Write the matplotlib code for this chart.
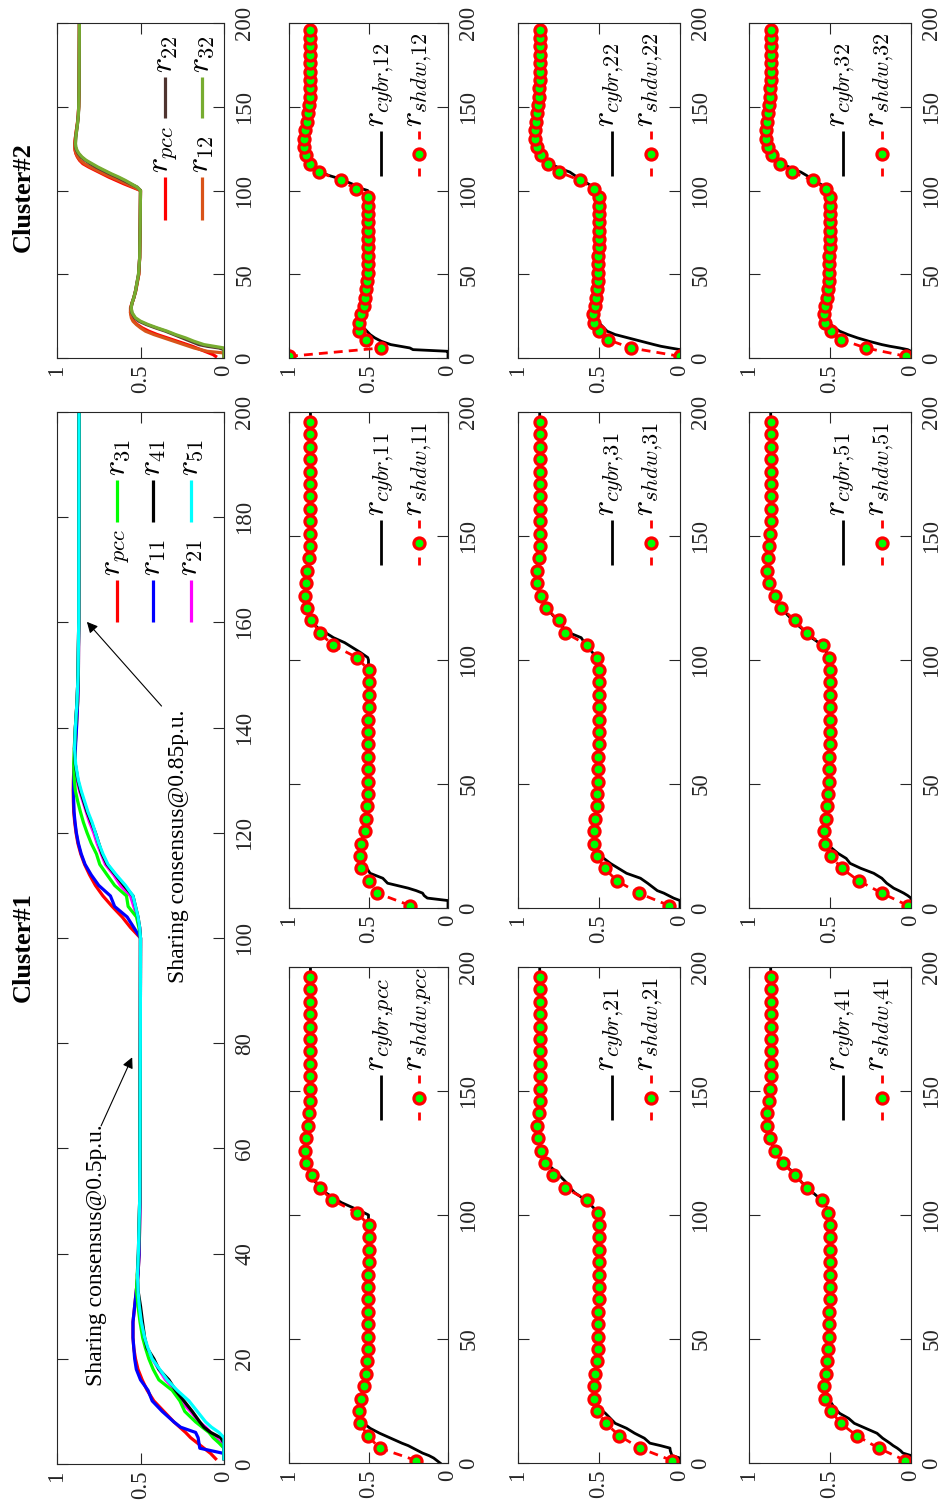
import matplotlib
matplotlib.use('Agg')
import matplotlib.pyplot as plt

plt.rcParams['font.family'] = ['Liberation Serif', 'DejaVu Serif']
plt.rcParams['mathtext.fontset'] = 'cm'

# ---------------- data ----------------
# time grid for the cluster overview curves
t_clu = [1, 2, 3, 4, 5, 6, 7, 8, 10, 12, 14, 16, 18, 20, 22, 24, 27, 30, 33, 36, 40,
         50, 60, 80, 100, 102, 104, 106, 108, 110, 112, 114, 116, 118, 120, 122, 124,
         126, 128, 130, 133, 136, 140, 145, 150, 160, 200]

c1_pcc = [0.05, 0.08, 0.12, 0.16, 0.20, 0.23, 0.265, 0.30, 0.36, 0.42, 0.46, 0.49, 0.515,
          0.53, 0.54, 0.545, 0.545, 0.535, 0.525, 0.515, 0.508, 0.503, 0.502, 0.501, 0.500,
          0.56, 0.61, 0.67, 0.725, 0.77, 0.805, 0.835, 0.858, 0.875, 0.886, 0.894, 0.90,
          0.902, 0.903, 0.902, 0.898, 0.892, 0.884, 0.876, 0.872, 0.87, 0.868]
c1_11 = [0.0, 0.0, 0.145, 0.15, 0.155, 0.17, 0.26, 0.30, 0.37, 0.43, 0.455, 0.50, 0.525,
         0.535, 0.54, 0.545, 0.545, 0.535, 0.525, 0.515, 0.508, 0.503, 0.502, 0.501, 0.500,
         0.54, 0.58, 0.655, 0.68, 0.75, 0.795, 0.832, 0.855, 0.872, 0.884, 0.892, 0.898,
         0.90, 0.901, 0.90, 0.896, 0.89, 0.883, 0.876, 0.872, 0.87, 0.868]
c1_21 = [0.0, 0.0, 0.0, 0.02, 0.05, 0.08, 0.11, 0.15, 0.20, 0.26, 0.29, 0.35, 0.39,
         0.43, 0.46, 0.478, 0.495, 0.508, 0.518, 0.518, 0.512, 0.505, 0.503, 0.501, 0.500,
         0.505, 0.52, 0.54, 0.56, 0.62, 0.66, 0.71, 0.735, 0.76, 0.78, 0.805, 0.825,
         0.845, 0.865, 0.88, 0.893, 0.896, 0.89, 0.88, 0.874, 0.87, 0.868]
c1_31 = [0.0, 0.0, 0.0, 0.03, 0.065, 0.09, 0.13, 0.17, 0.235, 0.264, 0.31, 0.39, 0.424,
         0.45, 0.47, 0.487, 0.503, 0.515, 0.524, 0.52, 0.512, 0.505, 0.503, 0.501, 0.500,
         0.51, 0.524, 0.574, 0.584, 0.655, 0.70, 0.744, 0.764, 0.795, 0.82, 0.842, 0.86,
         0.876, 0.89, 0.896, 0.90, 0.897, 0.89, 0.88, 0.874, 0.87, 0.868]
c1_41 = [0.0, 0.0, 0.0, 0.0, 0.02, 0.08, 0.12, 0.145, 0.19, 0.24, 0.29, 0.33, 0.39,
         0.42, 0.46, 0.475, 0.488, 0.50, 0.515, 0.518, 0.513, 0.505, 0.503, 0.501, 0.500,
         0.505, 0.515, 0.53, 0.545, 0.60, 0.65, 0.70, 0.73, 0.75, 0.77, 0.795, 0.82,
         0.84, 0.86, 0.875, 0.89, 0.895, 0.89, 0.88, 0.874, 0.87, 0.868]
c1_51 = [0.0, 0.0, 0.0, 0.0, 0.0, 0.03, 0.075, 0.11, 0.16, 0.21, 0.28, 0.34, 0.385,
         0.43, 0.455, 0.475, 0.495, 0.507, 0.515, 0.518, 0.513, 0.505, 0.503, 0.501, 0.500,
         0.505, 0.515, 0.53, 0.545, 0.59, 0.645, 0.695, 0.725, 0.75, 0.77, 0.79, 0.815,
         0.835, 0.855, 0.872, 0.888, 0.895, 0.89, 0.88, 0.874, 0.87, 0.868]

c2_pcc = [0.05, 0.065, 0.09, 0.115, 0.14, 0.165, 0.19, 0.22, 0.28, 0.34, 0.40, 0.45, 0.49,
          0.52, 0.54, 0.55, 0.56, 0.56, 0.55, 0.54, 0.53, 0.51, 0.505, 0.502, 0.500,
          0.55, 0.60, 0.645, 0.69, 0.73, 0.77, 0.81, 0.845, 0.865, 0.878, 0.887, 0.892,
          0.894, 0.894, 0.892, 0.888, 0.884, 0.878, 0.873, 0.87, 0.868, 0.866]
c2_12 = [0.0, 0.0, 0.0, 0.10, 0.14, 0.18, 0.21, 0.24, 0.30, 0.36, 0.42, 0.47, 0.50,
         0.525, 0.545, 0.555, 0.56, 0.558, 0.55, 0.54, 0.528, 0.51, 0.505, 0.502, 0.500,
         0.54, 0.585, 0.63, 0.675, 0.72, 0.76, 0.80, 0.835, 0.86, 0.875, 0.885, 0.891,
         0.894, 0.894, 0.892, 0.888, 0.884, 0.878, 0.873, 0.87, 0.868, 0.866]
c2_22 = [0.0, 0.0, 0.0, 0.0, 0.0, 0.03, 0.10, 0.15, 0.20, 0.25, 0.30, 0.35, 0.41,
         0.465, 0.51, 0.535, 0.552, 0.556, 0.55, 0.54, 0.53, 0.512, 0.505, 0.502, 0.500,
         0.52, 0.56, 0.60, 0.64, 0.685, 0.725, 0.765, 0.80, 0.83, 0.855, 0.872, 0.883,
         0.889, 0.89, 0.889, 0.886, 0.882, 0.877, 0.872, 0.87, 0.868, 0.866]
c2_32 = [0.0, 0.0, 0.0, 0.0, 0.0, 0.0, 0.06, 0.12, 0.18, 0.23, 0.29, 0.34, 0.40,
         0.455, 0.50, 0.53, 0.55, 0.556, 0.55, 0.54, 0.53, 0.512, 0.505, 0.502, 0.500,
         0.52, 0.555, 0.59, 0.63, 0.675, 0.715, 0.755, 0.79, 0.825, 0.85, 0.868, 0.88,
         0.887, 0.889, 0.888, 0.886, 0.882, 0.877, 0.872, 0.87, 0.868, 0.866]

# time grid for the cyber (black) curves
t_cybr = [0, 2, 3, 4, 5, 6, 7, 8, 10, 12, 14, 16, 18, 20, 22, 25, 30, 35, 40, 50, 60, 80,
          100, 101, 103, 105, 107, 109, 111, 113, 115, 118, 121, 125, 130, 135, 140, 150,
          160, 200]

cybr_pcc = [0.05, 0.09, 0.12, 0.16, 0.19, 0.22, 0.25, 0.29, 0.36, 0.43, 0.49, 0.53, 0.55,
            0.555, 0.558, 0.553, 0.535, 0.52, 0.51, 0.503, 0.502, 0.501, 0.50, 0.53, 0.60,
            0.67, 0.72, 0.77, 0.80, 0.83, 0.855, 0.875, 0.89, 0.90, 0.895, 0.885, 0.876,
            0.867, 0.865, 0.865]
cybr_11 = [0.0, 0.0, 0.0, 0.13, 0.15, 0.16, 0.20, 0.25, 0.38, 0.41, 0.49, 0.51, 0.53,
           0.55, 0.555, 0.55, 0.53, 0.515, 0.508, 0.503, 0.502, 0.501, 0.50, 0.505, 0.55,
           0.60, 0.65, 0.72, 0.77, 0.82, 0.85, 0.875, 0.89, 0.90, 0.895, 0.885, 0.876,
           0.866, 0.865, 0.865]
cybr_12 = [0.0, 0.0, 0.0, 0.0, 0.22, 0.24, 0.30, 0.36, 0.42, 0.46, 0.49, 0.51, 0.53,
           0.55, 0.56, 0.55, 0.535, 0.522, 0.515, 0.507, 0.504, 0.503, 0.505, 0.54, 0.58,
           0.63, 0.68, 0.75, 0.80, 0.83, 0.855, 0.88, 0.895, 0.905, 0.906, 0.90, 0.89,
           0.876, 0.87, 0.866]
cybr_21 = [0.0, 0.0, 0.05, 0.055, 0.06, 0.062, 0.12, 0.186, 0.22, 0.28, 0.33, 0.40, 0.43,
           0.46, 0.495, 0.52, 0.532, 0.527, 0.517, 0.506, 0.504, 0.502, 0.502, 0.51, 0.535,
           0.565, 0.605, 0.65, 0.68, 0.70, 0.73, 0.775, 0.825, 0.85, 0.873, 0.882, 0.872,
           0.866, 0.866, 0.866]
cybr_31 = [0.0, 0.0, 0.0, 0.04, 0.07, 0.10, 0.14, 0.16, 0.20, 0.244, 0.33, 0.38, 0.43,
           0.47, 0.503, 0.52, 0.528, 0.525, 0.515, 0.507, 0.504, 0.502, 0.502, 0.515, 0.54,
           0.565, 0.59, 0.61, 0.685, 0.72, 0.745, 0.785, 0.82, 0.855, 0.878, 0.882, 0.873,
           0.866, 0.866, 0.866]
cybr_22 = [0.0, 0.0, 0.0, 0.0, 0.0, 0.06, 0.118, 0.16, 0.24, 0.32, 0.40, 0.45, 0.47,
           0.49, 0.51, 0.53, 0.535, 0.526, 0.515, 0.507, 0.504, 0.502, 0.503, 0.51, 0.55,
           0.585, 0.62, 0.65, 0.68, 0.736, 0.78, 0.83, 0.86, 0.882, 0.895, 0.897, 0.888,
           0.875, 0.868, 0.866]
cybr_41 = [0.0, 0.0, 0.0, 0.05, 0.065, 0.085, 0.11, 0.13, 0.175, 0.21, 0.28, 0.35, 0.385,
           0.44, 0.47, 0.50, 0.53, 0.53, 0.518, 0.507, 0.504, 0.502, 0.502, 0.505, 0.52,
           0.54, 0.57, 0.605, 0.635, 0.672, 0.70, 0.74, 0.795, 0.835, 0.866, 0.885, 0.89,
           0.87, 0.866, 0.866]
cybr_51 = [0.0, 0.0, 0.0, 0.0, 0.02, 0.045, 0.075, 0.107, 0.15, 0.18, 0.23, 0.31, 0.376,
           0.40, 0.45, 0.505, 0.53, 0.53, 0.518, 0.507, 0.504, 0.502, 0.502, 0.51, 0.52,
           0.54, 0.57, 0.614, 0.645, 0.68, 0.715, 0.76, 0.80, 0.835, 0.87, 0.886, 0.885,
           0.869, 0.866, 0.866]
cybr_32 = [0.0, 0.0, 0.0, 0.0, 0.02, 0.07, 0.13, 0.18, 0.26, 0.33, 0.39, 0.44, 0.47,
           0.495, 0.515, 0.532, 0.535, 0.526, 0.516, 0.507, 0.504, 0.502, 0.503, 0.51, 0.545,
           0.58, 0.615, 0.645, 0.68, 0.73, 0.775, 0.825, 0.857, 0.88, 0.893, 0.896, 0.888,
           0.875, 0.868, 0.866]

# sample times of the shadow (marker) curves
t_shdw = [1, 6, 11, 16, 21, 26, 31, 36, 41, 46, 51, 56, 61, 66, 71, 76, 81, 86, 91, 96,
          101, 106, 111, 116, 121, 126, 131, 136, 141, 146, 151, 156, 161, 166, 171, 176,
          181, 186, 191, 196]

shdw_pcc = [0.20, 0.43, 0.505, 0.553, 0.559, 0.549, 0.528, 0.518, 0.507, 0.504,
            0.503, 0.502, 0.502, 0.501, 0.501, 0.501, 0.500, 0.500, 0.500, 0.500,
            0.573, 0.729, 0.807, 0.855, 0.890, 0.900, 0.890, 0.880, 0.874, 0.868,
            0.866, 0.865, 0.865, 0.865, 0.865, 0.865, 0.865, 0.865, 0.865, 0.865]
shdw_11 = [0.238, 0.445, 0.500, 0.549, 0.555, 0.545, 0.524, 0.513, 0.507, 0.504,
           0.503, 0.502, 0.502, 0.501, 0.501, 0.501, 0.500, 0.500, 0.500, 0.500,
           0.573, 0.725, 0.807, 0.859, 0.886, 0.900, 0.894, 0.884, 0.876, 0.867,
           0.865, 0.865, 0.865, 0.865, 0.865, 0.865, 0.865, 0.865, 0.865, 0.865]
shdw_12 = [1.000, 0.420, 0.514, 0.560, 0.560, 0.545, 0.530, 0.520, 0.514, 0.507,
           0.505, 0.504, 0.503, 0.503, 0.502, 0.502, 0.502, 0.502, 0.502, 0.502,
           0.580, 0.675, 0.810, 0.866, 0.895, 0.908, 0.906, 0.897, 0.887, 0.880,
           0.874, 0.870, 0.868, 0.867, 0.866, 0.866, 0.866, 0.866, 0.866, 0.866]
shdw_21 = [0.050, 0.247, 0.375, 0.458, 0.515, 0.530, 0.532, 0.526, 0.515, 0.509,
           0.506, 0.505, 0.504, 0.503, 0.503, 0.502, 0.502, 0.502, 0.502, 0.502,
           0.509, 0.573, 0.711, 0.784, 0.835, 0.856, 0.876, 0.882, 0.870, 0.866,
           0.866, 0.866, 0.866, 0.866, 0.866, 0.866, 0.866, 0.866, 0.866, 0.866]
shdw_31 = [0.068, 0.255, 0.390, 0.466, 0.514, 0.528, 0.528, 0.524, 0.514, 0.510,
           0.507, 0.505, 0.504, 0.503, 0.503, 0.502, 0.502, 0.502, 0.502, 0.502,
           0.510, 0.571, 0.710, 0.750, 0.830, 0.861, 0.882, 0.882, 0.872, 0.866,
           0.866, 0.866, 0.866, 0.866, 0.866, 0.866, 0.866, 0.866, 0.866, 0.866]
shdw_22 = [0.000, 0.303, 0.447, 0.503, 0.530, 0.536, 0.526, 0.520, 0.513, 0.509,
           0.507, 0.505, 0.504, 0.503, 0.503, 0.502, 0.502, 0.502, 0.502, 0.502,
           0.530, 0.616, 0.746, 0.814, 0.860, 0.885, 0.897, 0.897, 0.887, 0.880,
           0.874, 0.870, 0.868, 0.866, 0.866, 0.866, 0.866, 0.866, 0.866, 0.866]
shdw_41 = [0.035, 0.200, 0.335, 0.434, 0.494, 0.531, 0.537, 0.525, 0.517, 0.510,
           0.507, 0.505, 0.504, 0.503, 0.503, 0.502, 0.502, 0.502, 0.502, 0.502,
           0.510, 0.552, 0.645, 0.713, 0.793, 0.839, 0.868, 0.888, 0.890, 0.876,
           0.868, 0.866, 0.866, 0.866, 0.866, 0.866, 0.866, 0.866, 0.866, 0.866]
shdw_51 = [0.020, 0.180, 0.324, 0.428, 0.494, 0.531, 0.537, 0.525, 0.517, 0.510,
           0.507, 0.505, 0.504, 0.503, 0.503, 0.502, 0.502, 0.502, 0.502, 0.502,
           0.506, 0.545, 0.645, 0.717, 0.800, 0.841, 0.876, 0.888, 0.882, 0.876,
           0.868, 0.866, 0.866, 0.866, 0.866, 0.866, 0.866, 0.866, 0.866, 0.866]
shdw_32 = [0.030, 0.280, 0.430, 0.495, 0.530, 0.538, 0.528, 0.520, 0.513, 0.509,
           0.507, 0.505, 0.504, 0.503, 0.503, 0.502, 0.502, 0.502, 0.502, 0.502,
           0.525, 0.605, 0.735, 0.810, 0.855, 0.883, 0.897, 0.897, 0.888, 0.880,
           0.874, 0.870, 0.868, 0.866, 0.866, 0.866, 0.866, 0.866, 0.866, 0.866]

c1_series = [('pcc', c1_pcc, '#ff0000'), ('11', c1_11, '#0000ff'), ('21', c1_21, '#ff00ff'),
             ('31', c1_31, '#00ff00'), ('41', c1_41, '#000000'), ('51', c1_51, '#00ffff')]
c2_series = [('pcc', c2_pcc, '#ff0000'), ('12', c2_12, '#d95319'),
             ('22', c2_22, '#4f3430'), ('32', c2_32, '#77ac30')]

panel_ids = [['pcc', '11', '12'], ['21', '31', '22'], ['41', '51', '32']]
cybr_data = {'pcc': cybr_pcc, '11': cybr_11, '12': cybr_12, '21': cybr_21, '31': cybr_31,
             '22': cybr_22, '41': cybr_41, '51': cybr_51, '32': cybr_32}
shdw_data = {'pcc': shdw_pcc, '11': shdw_11, '12': shdw_12, '21': shdw_21, '31': shdw_31,
             '22': shdw_22, '41': shdw_41, '51': shdw_51, '32': shdw_32}

r_ticks = [0, 0.5, 1]
r_ticklabels = ['0', '0.5', '1']
t_ticks_c1 = [0, 20, 40, 60, 80, 100, 120, 140, 160, 180, 200]
t_ticks_small = [0, 50, 100, 150, 200]

# ---------------- figure ----------------
W, H = 948, 1509
fig = plt.figure(figsize=(W / 100, H / 100), dpi=100)
fig.patch.set_facecolor('white')

AXC = '#262626'
TICK_FS = 16.5
LEG_FS = 23
MK = dict(marker='o', ms=8, mfc='#00ff00', mec='#ff0000', mew=2.3)


def add_panel(x0, x1, y0, y1, tticks):
    """Rotated panel: time runs upward, r runs from 1 (left) to 0 (right)."""
    ax = fig.add_axes([x0 / W, 1 - y1 / H, (x1 - x0) / W, (y1 - y0) / H])
    ax.set_xlim(1, 0)
    ax.set_ylim(0, 200)
    ax.set_xticks(r_ticks)
    ax.set_xticklabels(r_ticklabels)
    ax.set_yticks(tticks)
    ax.set_yticklabels([str(v) for v in tticks])
    ax.tick_params(axis='x', direction='in', top=True, bottom=True, length=8, width=0.8,
                   colors=AXC, labelsize=TICK_FS, labelrotation=90, pad=5)
    ax.tick_params(axis='y', direction='in', left=True, right=True, labelleft=False,
                   labelright=True, length=8, width=0.8, colors=AXC, labelsize=TICK_FS,
                   labelrotation=90, pad=7.5)
    for tk in ax.yaxis.get_major_ticks():
        tk.label2.set_horizontalalignment('left')
        tk.label2.set_verticalalignment('center')
    for s in ax.spines.values():
        s.set_linewidth(0.8)
        s.set_color(AXC)
    ax.hpx = y1 - y0
    return ax


def leg_solid(ax, xf, off_top, off_bot, label, color, lw):
    hp = ax.hpx
    ax.plot([xf, xf], [1 - off_bot / hp, 1 - off_top / hp], color=color, lw=lw,
            transform=ax.transAxes, clip_on=False, solid_capstyle='butt')
    ax.text(xf, 1 - (off_top - 4) / hp, label, rotation=90, ha='center', va='bottom',
            fontsize=LEG_FS, transform=ax.transAxes)


def leg_shdw(ax, xf, off_top, off_bot, label):
    hp = ax.hpx
    seg = 8
    ax.plot([xf, xf], [1 - off_bot / hp, 1 - (off_bot - seg) / hp], color='r', lw=2,
            transform=ax.transAxes, clip_on=False, solid_capstyle='butt')
    ax.plot([xf, xf], [1 - (off_top + seg) / hp, 1 - off_top / hp], color='r', lw=2,
            transform=ax.transAxes, clip_on=False, solid_capstyle='butt')
    ax.plot([xf], [1 - (off_top + off_bot) / 2 / hp], transform=ax.transAxes,
            clip_on=False, **MK)
    ax.text(xf, 1 - (off_top - 4) / hp, label, rotation=90, ha='center', va='bottom',
            fontsize=LEG_FS, transform=ax.transAxes)


# ---- Cluster#1 overview ----
ax1 = add_panel(57, 224, 412, 1464, t_ticks_c1)
for name, vals, col in c1_series:
    ax1.plot(vals, t_clu, color=col, lw=2.3)
c1_leg_x = {'pcc': 0.36, '11': 0.575, '21': 0.80, '31': 0.36, '41': 0.575, '51': 0.80}
for name, vals, col in c1_series:
    off = (168, 210) if name in ('pcc', '11', '21') else (68, 110)
    leg_solid(ax1, c1_leg_x[name], off[0], off[1], r'$r_{%s}$' % name, col, 2.3)

ax1.text(0.762, 39.7, 'Sharing consensus@0.5p.u.', rotation=90, ha='center', va='center',
         fontsize=17)
ax1.annotate('', xy=(0.543, 77.8), xytext=(0.743, 63.8),
             arrowprops=dict(arrowstyle='-|>', color='k', lw=0.8, mutation_scale=16))
ax1.text(0.275, 117.4, 'Sharing consensus@0.85p.u.', rotation=90, ha='center',
         va='center', fontsize=17)
ax1.annotate('', xy=(0.832, 160.5), xytext=(0.363, 143.7),
             arrowprops=dict(arrowstyle='-|>', color='k', lw=0.8, mutation_scale=16))

# ---- Cluster#2 overview ----
ax2 = add_panel(57, 224, 23, 358, t_ticks_small)
for name, vals, col in c2_series:
    ax2.plot(vals, t_clu, color=col, lw=2.3)
c2_leg_x = {'pcc': 0.647, '12': 0.868, '22': 0.647, '32': 0.868}
for name, vals, col in c2_series:
    off = (154, 197) if name in ('pcc', '12') else (54, 95)
    leg_solid(ax2, c2_leg_x[name], off[0], off[1], r'$r_{%s}$' % name, col, 2.3)

fig.text(23 / W, 1 - 947 / H, 'Cluster#1', rotation=90, ha='center', va='center',
         fontsize=19, fontweight='bold')
fig.text(23 / W, 1 - 197 / H, 'Cluster#2', rotation=90, ha='center', va='center',
         fontsize=19, fontweight='bold')

# ---- cyber / shadow panels ----
rows_px = [(289, 448), (518, 680), (749, 911)]
cols_px = [(967, 1463), (412, 908), (23, 358)]
for i, (x0, x1) in enumerate(rows_px):
    for j, (y0, y1) in enumerate(cols_px):
        pid = panel_ids[i][j]
        ax = add_panel(x0, x1, y0, y1, t_ticks_small)
        ax.plot(cybr_data[pid], t_cybr, color='k', lw=2)
        ax.plot(shdw_data[pid], t_shdw, color='r', lw=2, ls='--', dashes=(3.2, 2.2), **MK)
        leg_solid(ax, 0.58, 108, 153, r'$r_{cybr{,}%s}$' % pid, 'k', 2)
        leg_shdw(ax, 0.82, 108, 153, r'$r_{shdw{,}%s}$' % pid)

fig.savefig('out.png', dpi=100, facecolor='white')
